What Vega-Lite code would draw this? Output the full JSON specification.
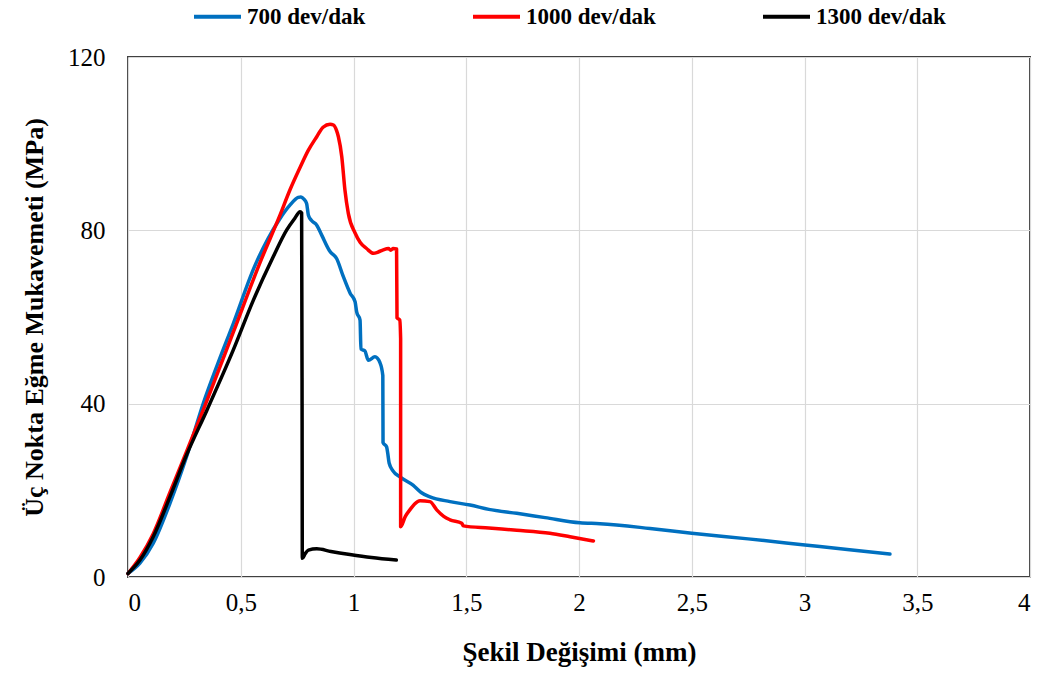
{
  "$schema": "https://vega.github.io/schema/vega-lite/v6.json",
  "width": 902,
  "height": 520,
  "autosize": {"type": "none"},
  "padding": {"left": 128, "top": 57, "right": 9, "bottom": 98},
  "background": "white",
  "config": {
    "view": {"stroke": "#404040", "strokeWidth": 2},
    "font": "Liberation Serif",
    "axis": {"labelFont": "Liberation Serif", "titleFont": "Liberation Serif"},
    "legend": {"labelFont": "Liberation Serif"}
  },
  "datasets": {
    "curves": [
      {"s": "700 dev/dak", "i": 1, "x": 0, "y": 0.8},
      {"s": "700 dev/dak", "i": 2, "x": 0.053, "y": 3.2},
      {"s": "700 dev/dak", "i": 3, "x": 0.112, "y": 7.8},
      {"s": "700 dev/dak", "i": 4, "x": 0.186, "y": 17.0},
      {"s": "700 dev/dak", "i": 5, "x": 0.26, "y": 27.8},
      {"s": "700 dev/dak", "i": 6, "x": 0.334, "y": 40.1},
      {"s": "700 dev/dak", "i": 7, "x": 0.40, "y": 49.5},
      {"s": "700 dev/dak", "i": 8, "x": 0.467, "y": 58.5},
      {"s": "700 dev/dak", "i": 9, "x": 0.56, "y": 71.5},
      {"s": "700 dev/dak", "i": 10, "x": 0.62, "y": 78.0},
      {"s": "700 dev/dak", "i": 11, "x": 0.67, "y": 82.4},
      {"s": "700 dev/dak", "i": 12, "x": 0.718, "y": 85.8},
      {"s": "700 dev/dak", "i": 13, "x": 0.755, "y": 87.6},
      {"s": "700 dev/dak", "i": 14, "x": 0.767, "y": 87.7},
      {"s": "700 dev/dak", "i": 15, "x": 0.78, "y": 87.2},
      {"s": "700 dev/dak", "i": 16, "x": 0.792, "y": 86.2},
      {"s": "700 dev/dak", "i": 17, "x": 0.80, "y": 83.5},
      {"s": "700 dev/dak", "i": 18, "x": 0.815, "y": 82.2},
      {"s": "700 dev/dak", "i": 19, "x": 0.837, "y": 81.2},
      {"s": "700 dev/dak", "i": 20, "x": 0.859, "y": 78.9},
      {"s": "700 dev/dak", "i": 21, "x": 0.896, "y": 75.1},
      {"s": "700 dev/dak", "i": 22, "x": 0.925, "y": 73.5},
      {"s": "700 dev/dak", "i": 23, "x": 0.955, "y": 69.3},
      {"s": "700 dev/dak", "i": 24, "x": 0.985, "y": 65.5},
      {"s": "700 dev/dak", "i": 25, "x": 1.007, "y": 63.5},
      {"s": "700 dev/dak", "i": 26, "x": 1.014, "y": 61.2},
      {"s": "700 dev/dak", "i": 27, "x": 1.029, "y": 59.3},
      {"s": "700 dev/dak", "i": 28, "x": 1.033, "y": 52.6},
      {"s": "700 dev/dak", "i": 29, "x": 1.05, "y": 52.2},
      {"s": "700 dev/dak", "i": 30, "x": 1.066, "y": 50.0},
      {"s": "700 dev/dak", "i": 31, "x": 1.095, "y": 50.8},
      {"s": "700 dev/dak", "i": 32, "x": 1.117, "y": 49.5},
      {"s": "700 dev/dak", "i": 33, "x": 1.13, "y": 46.5},
      {"s": "700 dev/dak", "i": 34, "x": 1.131, "y": 31.0},
      {"s": "700 dev/dak", "i": 35, "x": 1.147, "y": 30.0},
      {"s": "700 dev/dak", "i": 36, "x": 1.152, "y": 28.5},
      {"s": "700 dev/dak", "i": 37, "x": 1.158, "y": 26.3},
      {"s": "700 dev/dak", "i": 38, "x": 1.175, "y": 24.5},
      {"s": "700 dev/dak", "i": 39, "x": 1.206, "y": 23.1},
      {"s": "700 dev/dak", "i": 40, "x": 1.264, "y": 21.2},
      {"s": "700 dev/dak", "i": 41, "x": 1.30, "y": 19.5},
      {"s": "700 dev/dak", "i": 42, "x": 1.339, "y": 18.5},
      {"s": "700 dev/dak", "i": 43, "x": 1.428, "y": 17.4},
      {"s": "700 dev/dak", "i": 44, "x": 1.517, "y": 16.6},
      {"s": "700 dev/dak", "i": 45, "x": 1.6, "y": 15.6},
      {"s": "700 dev/dak", "i": 46, "x": 1.724, "y": 14.7},
      {"s": "700 dev/dak", "i": 47, "x": 1.85, "y": 13.7},
      {"s": "700 dev/dak", "i": 48, "x": 2.004, "y": 12.5},
      {"s": "700 dev/dak", "i": 49, "x": 2.093, "y": 12.3},
      {"s": "700 dev/dak", "i": 50, "x": 2.315, "y": 11.2},
      {"s": "700 dev/dak", "i": 51, "x": 2.5, "y": 10.1},
      {"s": "700 dev/dak", "i": 52, "x": 2.75, "y": 8.8},
      {"s": "700 dev/dak", "i": 53, "x": 3.002, "y": 7.4},
      {"s": "700 dev/dak", "i": 54, "x": 3.2, "y": 6.3},
      {"s": "700 dev/dak", "i": 55, "x": 3.379, "y": 5.3},

      {"s": "1000 dev/dak", "i": 1, "x": 0, "y": 0.8},
      {"s": "1000 dev/dak", "i": 2, "x": 0.053, "y": 4.5},
      {"s": "1000 dev/dak", "i": 3, "x": 0.112, "y": 10.0},
      {"s": "1000 dev/dak", "i": 4, "x": 0.186, "y": 19.5},
      {"s": "1000 dev/dak", "i": 5, "x": 0.26, "y": 29.0},
      {"s": "1000 dev/dak", "i": 6, "x": 0.341, "y": 39.5},
      {"s": "1000 dev/dak", "i": 7, "x": 0.467, "y": 56.5},
      {"s": "1000 dev/dak", "i": 8, "x": 0.585, "y": 72.5},
      {"s": "1000 dev/dak", "i": 9, "x": 0.674, "y": 83.5},
      {"s": "1000 dev/dak", "i": 10, "x": 0.718, "y": 89.3},
      {"s": "1000 dev/dak", "i": 11, "x": 0.763, "y": 94.5},
      {"s": "1000 dev/dak", "i": 12, "x": 0.80, "y": 98.5},
      {"s": "1000 dev/dak", "i": 13, "x": 0.837, "y": 101.6},
      {"s": "1000 dev/dak", "i": 14, "x": 0.865, "y": 103.8},
      {"s": "1000 dev/dak", "i": 15, "x": 0.896, "y": 104.5},
      {"s": "1000 dev/dak", "i": 16, "x": 0.911, "y": 104.3},
      {"s": "1000 dev/dak", "i": 17, "x": 0.925, "y": 103.0},
      {"s": "1000 dev/dak", "i": 18, "x": 0.933, "y": 101.6},
      {"s": "1000 dev/dak", "i": 19, "x": 0.948, "y": 97.0},
      {"s": "1000 dev/dak", "i": 20, "x": 0.962, "y": 89.3},
      {"s": "1000 dev/dak", "i": 21, "x": 0.977, "y": 83.9},
      {"s": "1000 dev/dak", "i": 22, "x": 1.007, "y": 79.4},
      {"s": "1000 dev/dak", "i": 23, "x": 1.03, "y": 77.2},
      {"s": "1000 dev/dak", "i": 24, "x": 1.058, "y": 75.8},
      {"s": "1000 dev/dak", "i": 25, "x": 1.088, "y": 74.7},
      {"s": "1000 dev/dak", "i": 26, "x": 1.11, "y": 75.0},
      {"s": "1000 dev/dak", "i": 27, "x": 1.132, "y": 75.5},
      {"s": "1000 dev/dak", "i": 28, "x": 1.155, "y": 75.8},
      {"s": "1000 dev/dak", "i": 29, "x": 1.165, "y": 75.4},
      {"s": "1000 dev/dak", "i": 30, "x": 1.176, "y": 75.8},
      {"s": "1000 dev/dak", "i": 31, "x": 1.191, "y": 75.7},
      {"s": "1000 dev/dak", "i": 32, "x": 1.193, "y": 59.8},
      {"s": "1000 dev/dak", "i": 33, "x": 1.205, "y": 59.3},
      {"s": "1000 dev/dak", "i": 34, "x": 1.209, "y": 55.0},
      {"s": "1000 dev/dak", "i": 35, "x": 1.209, "y": 11.6},
      {"s": "1000 dev/dak", "i": 36, "x": 1.23, "y": 14.0},
      {"s": "1000 dev/dak", "i": 37, "x": 1.25, "y": 15.5},
      {"s": "1000 dev/dak", "i": 38, "x": 1.27, "y": 16.8},
      {"s": "1000 dev/dak", "i": 39, "x": 1.295, "y": 17.6},
      {"s": "1000 dev/dak", "i": 40, "x": 1.339, "y": 17.4},
      {"s": "1000 dev/dak", "i": 41, "x": 1.369, "y": 15.5},
      {"s": "1000 dev/dak", "i": 42, "x": 1.40, "y": 14.0},
      {"s": "1000 dev/dak", "i": 43, "x": 1.428, "y": 13.2},
      {"s": "1000 dev/dak", "i": 44, "x": 1.48, "y": 12.4},
      {"s": "1000 dev/dak", "i": 45, "x": 1.487, "y": 11.8},
      {"s": "1000 dev/dak", "i": 46, "x": 1.6, "y": 11.3},
      {"s": "1000 dev/dak", "i": 47, "x": 1.724, "y": 10.8},
      {"s": "1000 dev/dak", "i": 48, "x": 1.871, "y": 10.1},
      {"s": "1000 dev/dak", "i": 49, "x": 1.96, "y": 9.3},
      {"s": "1000 dev/dak", "i": 50, "x": 2.064, "y": 8.3},

      {"s": "1300 dev/dak", "i": 1, "x": 0, "y": 0.8},
      {"s": "1300 dev/dak", "i": 2, "x": 0.053, "y": 3.9},
      {"s": "1300 dev/dak", "i": 3, "x": 0.112, "y": 9.3},
      {"s": "1300 dev/dak", "i": 4, "x": 0.186, "y": 18.5},
      {"s": "1300 dev/dak", "i": 5, "x": 0.26, "y": 28.2},
      {"s": "1300 dev/dak", "i": 6, "x": 0.35, "y": 38.5},
      {"s": "1300 dev/dak", "i": 7, "x": 0.467, "y": 52.4},
      {"s": "1300 dev/dak", "i": 8, "x": 0.556, "y": 63.9},
      {"s": "1300 dev/dak", "i": 9, "x": 0.644, "y": 73.9},
      {"s": "1300 dev/dak", "i": 10, "x": 0.704, "y": 80.1},
      {"s": "1300 dev/dak", "i": 11, "x": 0.74, "y": 82.8},
      {"s": "1300 dev/dak", "i": 12, "x": 0.763, "y": 84.3},
      {"s": "1300 dev/dak", "i": 13, "x": 0.77, "y": 84.0},
      {"s": "1300 dev/dak", "i": 14, "x": 0.772, "y": 40.0},
      {"s": "1300 dev/dak", "i": 15, "x": 0.773, "y": 4.3},
      {"s": "1300 dev/dak", "i": 16, "x": 0.785, "y": 5.3},
      {"s": "1300 dev/dak", "i": 17, "x": 0.80, "y": 6.2},
      {"s": "1300 dev/dak", "i": 18, "x": 0.837, "y": 6.5},
      {"s": "1300 dev/dak", "i": 19, "x": 0.90, "y": 5.9},
      {"s": "1300 dev/dak", "i": 20, "x": 0.984, "y": 5.2},
      {"s": "1300 dev/dak", "i": 21, "x": 1.08, "y": 4.5},
      {"s": "1300 dev/dak", "i": 22, "x": 1.19, "y": 3.9}
    ]
  },
  "data": {"name": "curves"},
  "mark": {"type": "line", "strokeWidth": 3.5, "strokeJoin": "round", "strokeCap": "round", "interpolate": "monotone"},
  "encoding": {
    "x": {
      "field": "x",
      "type": "quantitative",
      "scale": {"domain": [0, 4], "nice": false, "zero": false},
      "axis": {
        "title": "Şekil Değişimi (mm)",
        "values": [0, 0.5, 1, 1.5, 2, 2.5, 3, 3.5, 4],
        "labelExpr": "replace(format(datum.value, '.1~f'), '.', ',')",
        "domain": false,
        "ticks": false,
        "grid": true,
        "gridColor": "#d9d9d9",
        "gridWidth": 1.2,
        "labelFont": "Liberation Serif",
        "labelFontSize": 25,
        "labelColor": "#000000",
        "labelPadding": 13,
        "titleFont": "Liberation Serif",
        "titleFontSize": 27,
        "titleFontWeight": "bold",
        "titleColor": "#000000",
        "titlePadding": 24
      }
    },
    "y": {
      "field": "y",
      "type": "quantitative",
      "scale": {"domain": [0, 120], "nice": false},
      "axis": {
        "title": "Üç Nokta Eğme Mukavemeti (MPa)",
        "values": [0, 40, 80, 120],
        "domain": false,
        "ticks": false,
        "grid": true,
        "gridColor": "#d9d9d9",
        "gridWidth": 1.2,
        "labelFont": "Liberation Serif",
        "labelFontSize": 25,
        "labelColor": "#000000",
        "labelPadding": 23,
        "titleFont": "Liberation Serif",
        "titleFontSize": 26,
        "titleFontWeight": "bold",
        "titleColor": "#000000",
        "titlePadding": 20
      }
    },
    "color": {
      "field": "s",
      "type": "nominal",
      "sort": ["700 dev/dak", "1000 dev/dak", "1300 dev/dak"],
      "scale": {
        "domain": ["700 dev/dak", "1000 dev/dak", "1300 dev/dak"],
        "range": ["#0070C0", "#FF0000", "#000000"]
      },
      "legend": {
        "title": null,
        "orient": "none",
        "direction": "horizontal",
        "legendX": 64,
        "legendY": -66,
        "padding": 0,
        "symbolType": "stroke",
        "symbolSize": 2209,
        "symbolStrokeWidth": 4,
        "labelOffset": 4,
        "columnPadding": 99,
        "labelFont": "Liberation Serif",
        "labelFontSize": 23,
        "labelFontWeight": "bold",
        "labelColor": "#000000",
        "labelLimit": 300
      }
    },
    "order": {"field": "i", "type": "quantitative"}
  }
}
